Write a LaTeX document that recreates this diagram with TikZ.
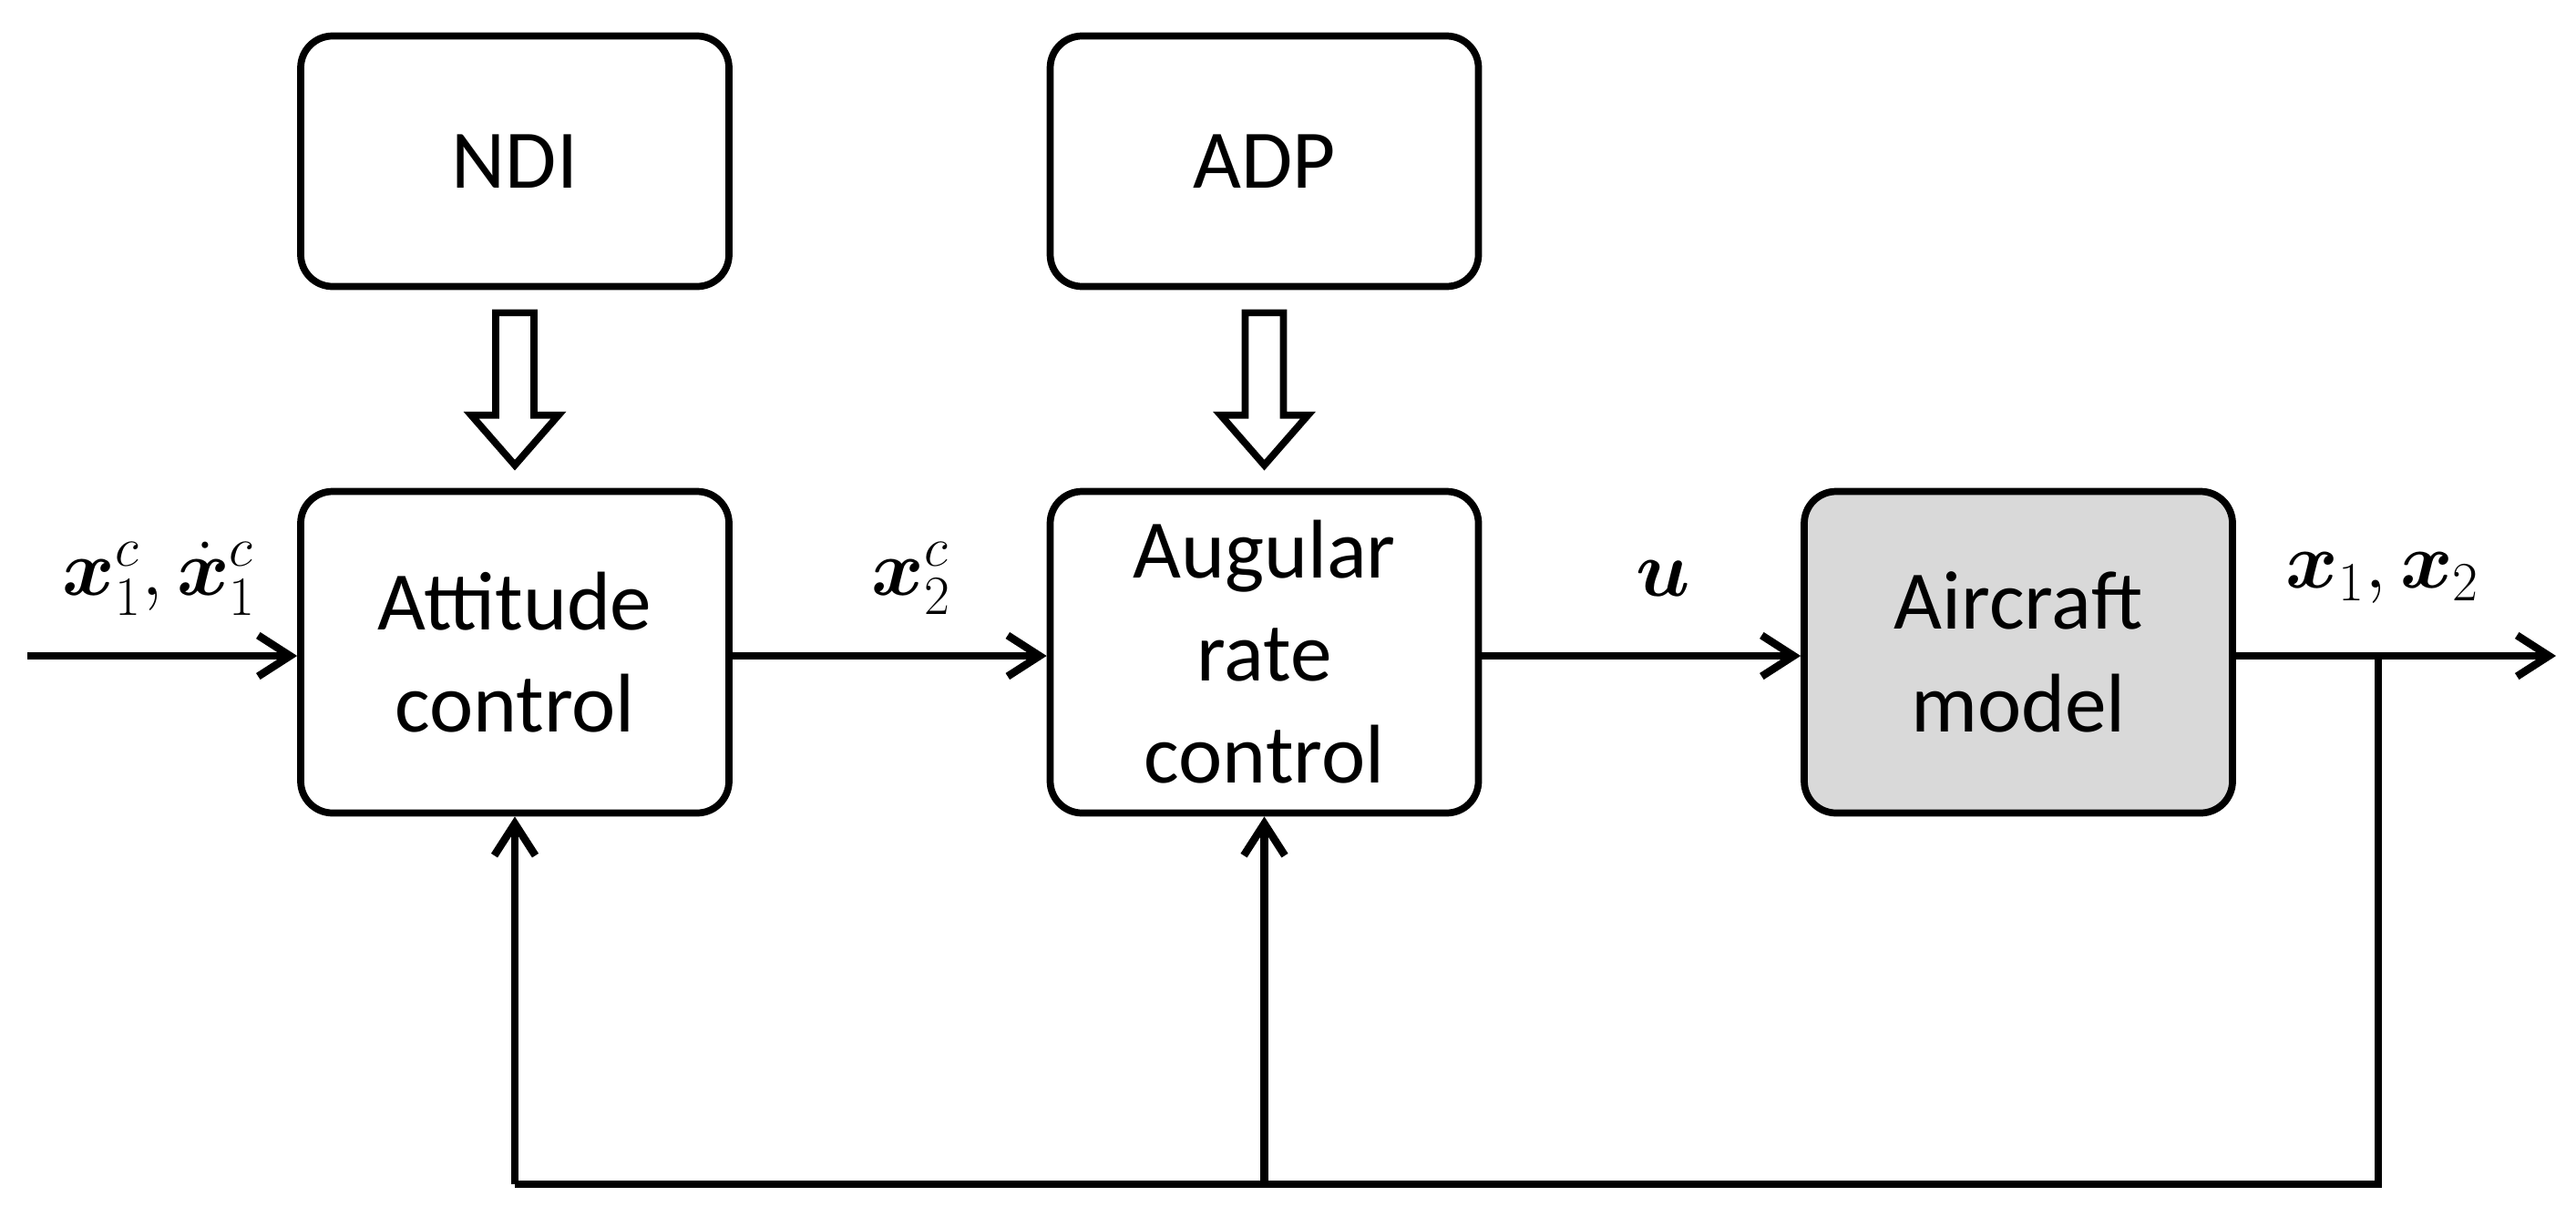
\documentclass[tikz,border=0pt]{standalone}
\usepackage{fontspec}
\usepackage{amsmath,bm}
\setmainfont{Carlito}
\usetikzlibrary{arrows.meta,calc}
\begin{document}
\begin{tikzpicture}[
  blk/.style={draw,line width=2.2pt,rounded corners=0.35cm,minimum width=4.7cm,align=center,font=\fontsize{26}{32}\selectfont},
  sig/.style={line width=2.4pt,-{Straight Barb[length=0.35cm,width=0.45cm,line width=2.4pt]}},
  lbl/.style={font=\fontsize{23}{26}\selectfont}
]
\useasboundingbox (0,0) rectangle (28.27,13.35);
\node[blk,minimum height=2.75cm] (ndi) at (5.65,11.58) {NDI};
\node[blk,minimum height=2.75cm] (adp) at (13.875,11.58) {ADP};
\node[blk,minimum height=3.53cm] (att) at (5.65,6.19) {Attitude\\control};
\node[blk,minimum height=3.53cm] (ang) at (13.875,6.19) {Augular\\rate\\control};
\node[blk,minimum height=3.53cm,fill=black!15] (air) at (22.15,6.19) {Aircraft\\model};
\coordinate (in) at (0.3,6.15);
\coordinate (out) at (28.05,6.15);
\coordinate (tap) at (26.1,6.15);
\coordinate (bot) at (26.1,0.35);
\coordinate (bl) at (5.65,0.35);
\coordinate (bm) at (13.875,0.35);
\draw[sig] (in) -- (in -| att.west);
\draw[sig] (att.east |- in) -- (ang.west |- in);
\draw[sig] (ang.east |- in) -- (air.west |- in);
\draw[sig] (air.east |- in) -- (out);
\draw[line width=2.4pt] (tap) -- (bot) -- (bl);
\draw[sig] (bl) -- (att.south);
\draw[sig] (bm) -- (ang.south);
% hollow arrows
\foreach \n/\m in {ndi/att,adp/ang}{
  \draw[line width=2.2pt,line join=miter]
    ($(\n.south)+(-0.21,-0.25)$) -- ($(\m.north)+(-0.21,0.8)$) -- ($(\m.north)+(-0.48,0.8)$)
    -- ($(\m.north)+(0,0.25)$) -- ($(\m.north)+(0.48,0.8)$) -- ($(\m.north)+(0.21,0.8)$) -- ($(\n.south)+(0.21,-0.25)$) -- cycle;
}
\node[lbl] (l1) at (1.75,7.0) {$\bm{x}_1^c,\dot{\bm{x}}_1^c$};
\node[lbl] (l2) at (10.0,7.0) {$\bm{x}_2^c$};
\node[lbl] (l3) at (18.25,7.0) {$\bm{u}$};
\node[lbl] (l4) at (26.15,7.0) {$\bm{x}_1,\bm{x}_2$};
\end{tikzpicture}
\end{document}
